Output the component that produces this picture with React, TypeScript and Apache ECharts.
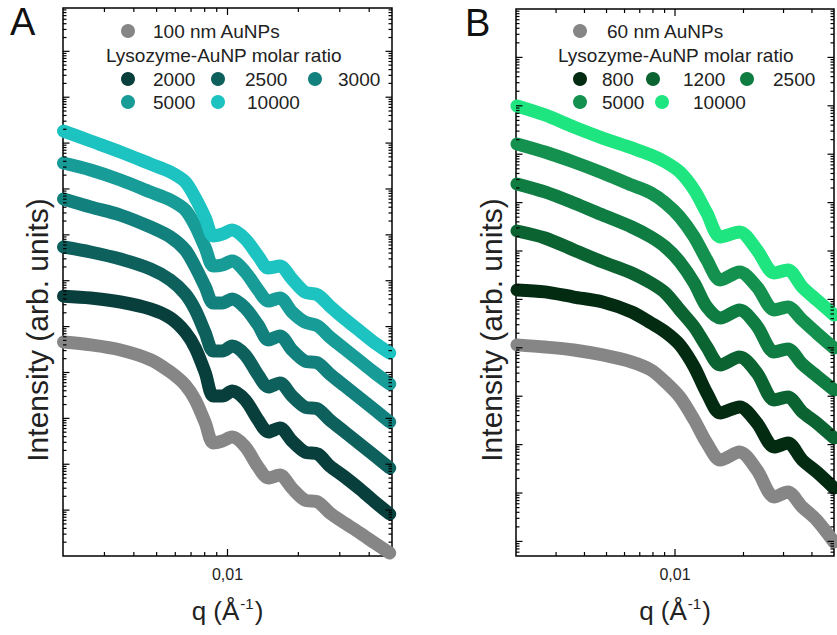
import React, { useEffect, useRef } from "react";
import * as echarts from "echarts";

// ---------- DATA ----------
const qA = [0.00201, 0.00262, 0.00351, 0.00471, 0.00572, 0.00662, 0.0073, 0.00805, 0.0087, 0.0095, 0.01047, 0.0119, 0.0135, 0.0149, 0.0167, 0.0188, 0.0213, 0.0242, 0.0272, 0.0315, 0.0365, 0.0423, 0.0489];
const namesA = ["100 nm AuNPs", "2000", "2500", "3000", "5000", "10000"];
const aGrey = [4.6e4, 4.0e4, 3.1e4, 1.9e4, 1.02e4, 5.3e3, 2.5e3, 790, 290, 320, 390, 240, 87, 50, 58, 30, 16.6, 15, 8.7, 5.2, 3.2, 1.9, 1.16];
const a2000 = [4.6e5, 4.2e5, 3.44e5, 2.42e5, 1.54e5, 7.6e4, 3.4e4, 9.75e3, 3.07e3, 3.07e3, 3.95e3, 2.51e3, 920, 505, 617, 321, 185, 167, 91.6, 52.7, 28.8, 15.0, 8.23];
const a2500 = [5.43e6, 4.23e6, 2.97e6, 1.8e6, 1.04e6, 5.14e5, 2.3e5, 7.25e4, 2.94e4, 2.94e4, 3.78e4, 2.4e4, 8.81e3, 4.83e3, 5.9e3, 3.07e3, 1.77e3, 1.6e3, 920, 505, 276, 151, 82.8];
const a3000 = [6.04e7, 4.05e7, 2.7e7, 1.48e7, 8.98e6, 4.67e6, 1.99e6, 7.3e5, 3.27e5, 3.27e5, 4.0e5, 2.54e5, 1.08e5, 5.11e4, 6.24e4, 3.09e4, 1.78e4, 1.61e4, 9.27e3, 5.07e3, 2.78e3, 1.52e3, 834];
const a5000 = [3.68e8, 2.59e8, 1.57e8, 8.59e7, 5.74e7, 3.48e7, 1.56e7, 5.16e6, 2.09e6, 2.2e6, 2.69e6, 1.55e6, 6.28e5, 3.61e5, 4.2e5, 2.08e5, 1.26e5, 1.03e5, 5.93e4, 3.25e4, 1.78e4, 9.75e3, 5.61e3];
const a10000 = [1.83e9, 1.11e9, 6.39e8, 3.5e8, 2.34e8, 1.42e8, 6.35e7, 2.33e7, 9.44e6, 1.04e7, 1.27e7, 8.11e6, 3.46e6, 1.89e6, 2.09e6, 1.09e6, 5.68e5, 4.89e5, 2.81e5, 1.47e5, 8.02e4, 4.4e4, 2.66e4];

const qB = [0.00202, 0.00268, 0.00359, 0.00481, 0.00645, 0.00784, 0.00907, 0.0105, 0.01215, 0.0138, 0.01582, 0.01922, 0.02292, 0.02732, 0.03131, 0.03625, 0.04197, 0.05];
const namesB = ["60 nm AuNPs", "800", "1200", "2500", "5000", "10000"];
const bGrey = [1.15e4, 1.04e4, 9.02e3, 7.11e3, 5.09e3, 3.48e3, 1.97e3, 964, 323, 108, 48.1, 70.5, 29.9, 8.28, 10.5, 5.14, 2.77, 0.97];
const b800 = [1.57e5, 1.43e5, 1.12e5, 8.85e4, 5.5e4, 3.26e4, 2.12e4, 1.15e4, 4.02e3, 1.17e3, 451, 600, 280, 89.3, 108, 48.1, 27.2, 12.7];
const b1200 = [2.59e6, 1.86e6, 1.05e6, 5.93e5, 3.52e5, 2.18e5, 1.36e5, 6.05e4, 2.69e4, 1.04e4, 4.42e3, 6.47e3, 3.02e3, 836, 964, 472, 280, 137];
const b2500 = [2.43e7, 1.66e7, 9.82e6, 5.55e6, 3.14e6, 1.95e6, 1.21e6, 5.93e5, 2.18e5, 6.98e4, 4.13e4, 6.05e4, 2.82e4, 8.2e3, 9.46e3, 4.63e3, 2.62e3, 1.35e3];
const b5000 = [1.63e8, 1.11e8, 6.9e7, 4.09e7, 2.31e7, 1.58e7, 9.82e6, 5.05e6, 1.95e6, 6.53e5, 2.52e5, 3.69e5, 1.81e5, 6.05e4, 6.98e4, 3.76e4, 2.02e4, 9.93e3];
const b10000 = [9.93e8, 6.47e8, 3.66e8, 2.16e8, 1.35e8, 9.64e7, 6.9e7, 4.3e7, 1.82e7, 6.11e6, 1.95e6, 2.47e6, 1.05e6, 3.52e5, 4.06e5, 1.81e5, 9.73e4, 4.76e4];

const xMinorTicks = [0.003, 0.004, 0.005, 0.006, 0.007, 0.008, 0.009, 0.02, 0.03, 0.04];
const xMajorTicks = [0.01];
const xTickText = "0,01";
const legendTitle = "Lysozyme-AuNP molar ratio";
const yName = "Intensity (arb. units)";

// ---------- STYLE / LAYOUT ----------
const FONT = '"Liberation Sans", Arial, Helvetica, sans-serif';
const colorsA = ["#868686", "#083f3c", "#0e605d", "#12807c", "#179c98", "#1cc3c0"];
const colorsB = ["#868686", "#032b12", "#0a6331", "#0f7d42", "#15914f", "#1ee57f"];

const panels = [
  {
    letter: "A", letterX: 10, letterY: 22,
    yTitleX: 37, yTitleY: 330,
    grid: { left: 63, top: 8, width: 329, height: 548 },
    xMin: 0.002, xMax: 0.05, yMin: 1, yMax: 8.8e11,
    q: qA, series: [aGrey, a2000, a2500, a3000, a5000, a10000], names: namesA, colors: colorsA,
    legend: {
      header: { mx: 128, tx: 153, y: 31 },
      title: { x: 106, y: 55 },
      items: [
        { mx: 128, tx: 153, y: 79 }, { mx: 218, tx: 245, y: 79 }, { mx: 315, tx: 338, y: 79 },
        { mx: 128, tx: 153, y: 102 }, { mx: 218, tx: 247, y: 102 },
      ],
    },
  },
  {
    letter: "B", letterX: 465, letterY: 23,
    yTitleX: 491, yTitleY: 330,
    grid: { left: 516, top: 9, width: 329, height: 547 },
    xMin: 0.002, xMax: 0.05, yMin: 0.5, yMax: 1e11,
    q: qB, series: [bGrey, b800, b1200, b2500, b5000, b10000], names: namesB, colors: colorsB,
    legend: {
      header: { mx: 580, tx: 607, y: 31 },
      title: { x: 558, y: 55 },
      items: [
        { mx: 580, tx: 602, y: 79 }, { mx: 653, tx: 683, y: 79 }, { mx: 747, tx: 773, y: 79 },
        { mx: 580, tx: 602, y: 102 }, { mx: 662, tx: 693, y: 102 },
      ],
    },
  },
];

function yTicks(min: number, max: number) {
  const out: number[][] = [];
  for (let e = Math.floor(Math.log10(min)); e <= Math.ceil(Math.log10(max)); e++) {
    for (let k = 1; k <= 9; k++) {
      const v = k * Math.pow(10, e);
      if (v > min * 1.0001 && v < max * 0.9999) out.push([0, v, k === 1 ? 1 : 0]);
    }
  }
  return out;
}

function buildOption() {
  const grids: any[] = [];
  const xAxes: any[] = [];
  const yAxes: any[] = [];
  const series: any[] = [];
  const graphic: any[] = [];
  const tickStyle = { stroke: "#000", lineWidth: 1.2 };

  panels.forEach((p, i) => {
    grids.push({ ...p.grid, show: true, borderColor: "#000", borderWidth: 1.5, backgroundColor: "transparent" });
    xAxes.push({
      gridIndex: i, type: "log", logBase: 10, min: p.xMin, max: p.xMax,
      axisLine: { show: false }, axisTick: { show: false }, splitLine: { show: false },
      axisLabel: {
        fontSize: 16, color: "#222", fontFamily: FONT, margin: 10,
        formatter: (v: number) => (Math.abs(v - xMajorTicks[0]) < 1e-7 ? xTickText : ""),
      },
      name: "{t|q (Å}{s|-1}{t|)}",
      nameLocation: "middle", nameGap: 40,
      nameTextStyle: {
        rich: {
          t: { fontSize: 26, fontFamily: FONT, color: "#222", lineHeight: 30 },
          s: { fontSize: 15, fontFamily: FONT, color: "#222", lineHeight: 30, verticalAlign: "top", padding: [0, 1, 0, 1] },
        },
      },
    });
    yAxes.push({
      gridIndex: i, type: "log", logBase: 10, min: p.yMin, max: p.yMax,
      axisLine: { show: false }, axisTick: { show: false }, splitLine: { show: false },
      axisLabel: { show: false },
    });

    p.series.forEach((vals, j) => {
      series.push({
        name: p.names[j], type: "line", xAxisIndex: i, yAxisIndex: i,
        data: p.q.map((q, k) => [q, vals[k]]),
        showSymbol: false, smooth: 0.3, clip: true, z: 2 + j,
        lineStyle: { width: 13, color: p.colors[j], cap: "round", join: "round" },
        itemStyle: { color: p.colors[j] },
      });
    });

    // x ticks (bottom & top)
    series.push({
      type: "custom", xAxisIndex: i, yAxisIndex: i, silent: true, clip: false, z: 20,
      data: [...xMinorTicks.map((v) => [v, 10, 0]), ...xMajorTicks.map((v) => [v, 10, 1])],
      renderItem: (params: any, api: any) => {
        const cs = params.coordSys;
        const x = api.coord([api.value(0), api.value(1)])[0];
        const len = api.value(2) ? 7 : 4;
        return {
          type: "group",
          children: [
            { type: "line", shape: { x1: x, y1: cs.y + cs.height, x2: x, y2: cs.y + cs.height - len }, style: tickStyle },
            { type: "line", shape: { x1: x, y1: cs.y, x2: x, y2: cs.y + len }, style: tickStyle },
          ],
        };
      },
    });
    // y ticks (left & right)
    series.push({
      type: "custom", xAxisIndex: i, yAxisIndex: i, silent: true, clip: false, z: 20,
      data: yTicks(p.yMin, p.yMax).map((d) => [p.xMin * 2, d[1], d[2]]),
      renderItem: (params: any, api: any) => {
        const cs = params.coordSys;
        const y = api.coord([api.value(0), api.value(1)])[1];
        const len = api.value(2) ? 6.5 : 3.5;
        return {
          type: "group",
          children: [
            { type: "line", shape: { x1: cs.x, y1: y, x2: cs.x + len, y2: y }, style: tickStyle },
            { type: "line", shape: { x1: cs.x + cs.width, y1: y, x2: cs.x + cs.width - len, y2: y }, style: tickStyle },
          ],
        };
      },
    });

    // panel letter
    graphic.push({
      type: "text", z: 50,
      style: { text: p.letter, x: p.letterX, y: p.letterY, font: `38px ${FONT}`, fill: "#111", verticalAlign: "middle", textVerticalAlign: "middle" },
    });
    // y title
    graphic.push({
      type: "text", z: 50, x: p.yTitleX, y: p.yTitleY, rotation: Math.PI / 2,
      style: { text: yName, x: 0, y: 0, font: `30px ${FONT}`, fill: "#222", align: "center", textAlign: "center", verticalAlign: "middle", textVerticalAlign: "middle" },
    });
    // legend
    const L = p.legend;
    const txt = (text: string, x: number, y: number) => ({
      type: "text", z: 50,
      style: { text, x, y, font: `19px ${FONT}`, fill: "#222", verticalAlign: "middle", textVerticalAlign: "middle", align: "left", textAlign: "left" },
    });
    graphic.push({ type: "circle", z: 50, shape: { cx: L.header.mx, cy: L.header.y, r: 7 }, style: { fill: p.colors[0] } });
    graphic.push(txt(p.names[0], L.header.tx, L.header.y));
    graphic.push(txt(legendTitle, L.title.x, L.title.y));
    L.items.forEach((it, k) => {
      graphic.push({ type: "circle", z: 50, shape: { cx: it.mx, cy: it.y, r: 7 }, style: { fill: p.colors[k + 1] } });
      graphic.push(txt(p.names[k + 1], it.tx, it.y));
    });
  });

  return {
    animation: false,
    backgroundColor: "#fff",
    grid: grids,
    xAxis: xAxes,
    yAxis: yAxes,
    series,
    graphic,
  };
}

export default function App() {
  const ref = useRef<HTMLDivElement>(null);
  useEffect(() => {
    if (!ref.current) return;
    const chart = echarts.init(ref.current, null, { renderer: "svg" });
    chart.setOption(buildOption() as any);
    return () => chart.dispose();
  }, []);
  return (
    <div
      ref={ref}
      style={{ position: "absolute", left: 0, top: 0, width: 837, height: 635, overflow: "hidden", background: "#fff" }}
    />
  );
}
